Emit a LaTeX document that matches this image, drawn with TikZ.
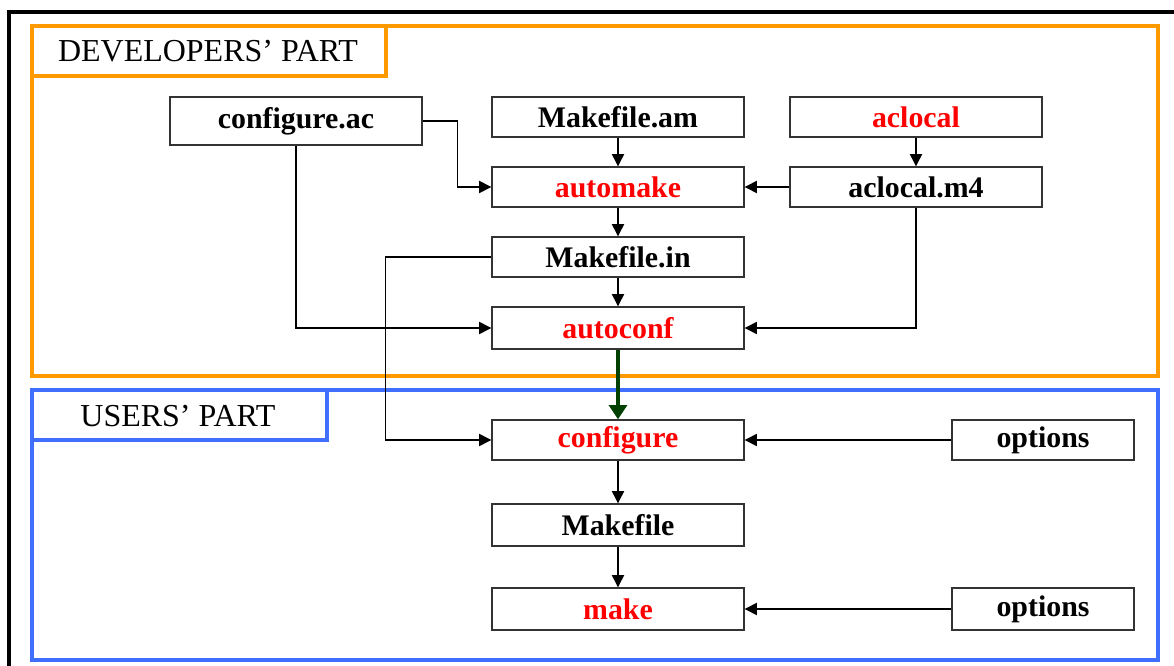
\documentclass[tikz,border=0pt]{standalone}
\usepackage{fontspec}
\setmainfont{Liberation Serif}
\usetikzlibrary{arrows.meta}
\definecolor{devorange}{RGB}{255,153,0}
\definecolor{userblue}{RGB}{64,110,255}
\definecolor{darkgreen}{RGB}{0,64,0}
\tikzset{
    box/.style={draw=black!80, line width=0.8pt, fill=white, minimum width=5.04cm,
        minimum height=0.8cm, inner sep=0pt, font=\fontsize{17}{20}\selectfont\bfseries},
    tool/.style={box, text=red},
    arr/.style={draw=black, line width=0.7pt, -{Triangle[length=7pt,width=7pt]}},
    part/.style={line width=2.3pt},
    parttitle/.style={font=\fontsize{18.2}{21}\selectfont}
}
\begin{document}
\begin{tikzpicture}[x=0.02cm, y=-0.02cm]
    \useasboundingbox (0,0) rectangle (1174,666);
    % outer frame
    \draw[line width=2.3pt] (9,680) -- (9,12) -- (1190,12);

    % Developers' part
    \draw[part, devorange] (32,26) rectangle (1158,376);
    \draw[part, devorange] (32,26) rectangle (386,76);
    \node[parttitle] (devtitle) at (208,51) {DEVELOPERS' PART};

    % Users' part
    \draw[part, userblue] (32,390) rectangle (1158,660);
    \draw[part, userblue] (32,390) rectangle (327,440);
    \node[parttitle] (usrtitle) at (178,416) {USERS' PART};

    % boxes
    \node[box, minimum height=0.96cm] (confac) at (296,121) {configure.ac};
    \node[box] (mkam)   at (618,117) {Makefile.am};
    \node[tool] (aclocal) at (916,117) {aclocal};
    \node[tool] (automake) at (618,187) {automake};
    \node[box] (m4)     at (916,187) {aclocal.m4};
    \node[box] (mkin)   at (618,257) {Makefile.in};
    \node[tool, minimum height=0.84cm] (autoconf) at (618,328) {autoconf};
    \node[tool] (configure) at (618,440) {configure};
    \node[box, minimum width=3.64cm] (opt1) at (1043,440) {options};
    \node[box, minimum height=0.84cm] (mkfile) at (618,525) {Makefile};
    \node[tool, minimum height=0.84cm] (make) at (618,609) {make};
    \node[box, minimum width=3.64cm, minimum height=0.84cm] (opt2) at (1043,609) {options};

    % connectors
    \draw[arr] (confac.east) -- ++(35,0) |- (automake.west);
    \draw[arr] (confac.south) |- (autoconf.west);
    \draw[arr] (mkam) -- (automake);
    \draw[arr] (aclocal) -- (m4);
    \draw[arr] (m4) -- (automake);
    \draw[arr] (automake) -- (mkin);
    \draw[arr] (mkin) -- (autoconf);
    \draw[arr] (m4.south) |- (autoconf.east);
    \draw[arr] (mkin.west) -- ++(-106,0) |- (configure.west);
    \draw[arr, draw=darkgreen, line width=2.8pt, -{Triangle[length=8pt,width=10pt]}] (autoconf) -- (configure);
    \draw[arr] (opt1) -- (configure);
    \draw[arr] (configure) -- (mkfile);
    \draw[arr] (mkfile) -- (make);
    \draw[arr] (opt2) -- (make);
\end{tikzpicture}
\end{document}
